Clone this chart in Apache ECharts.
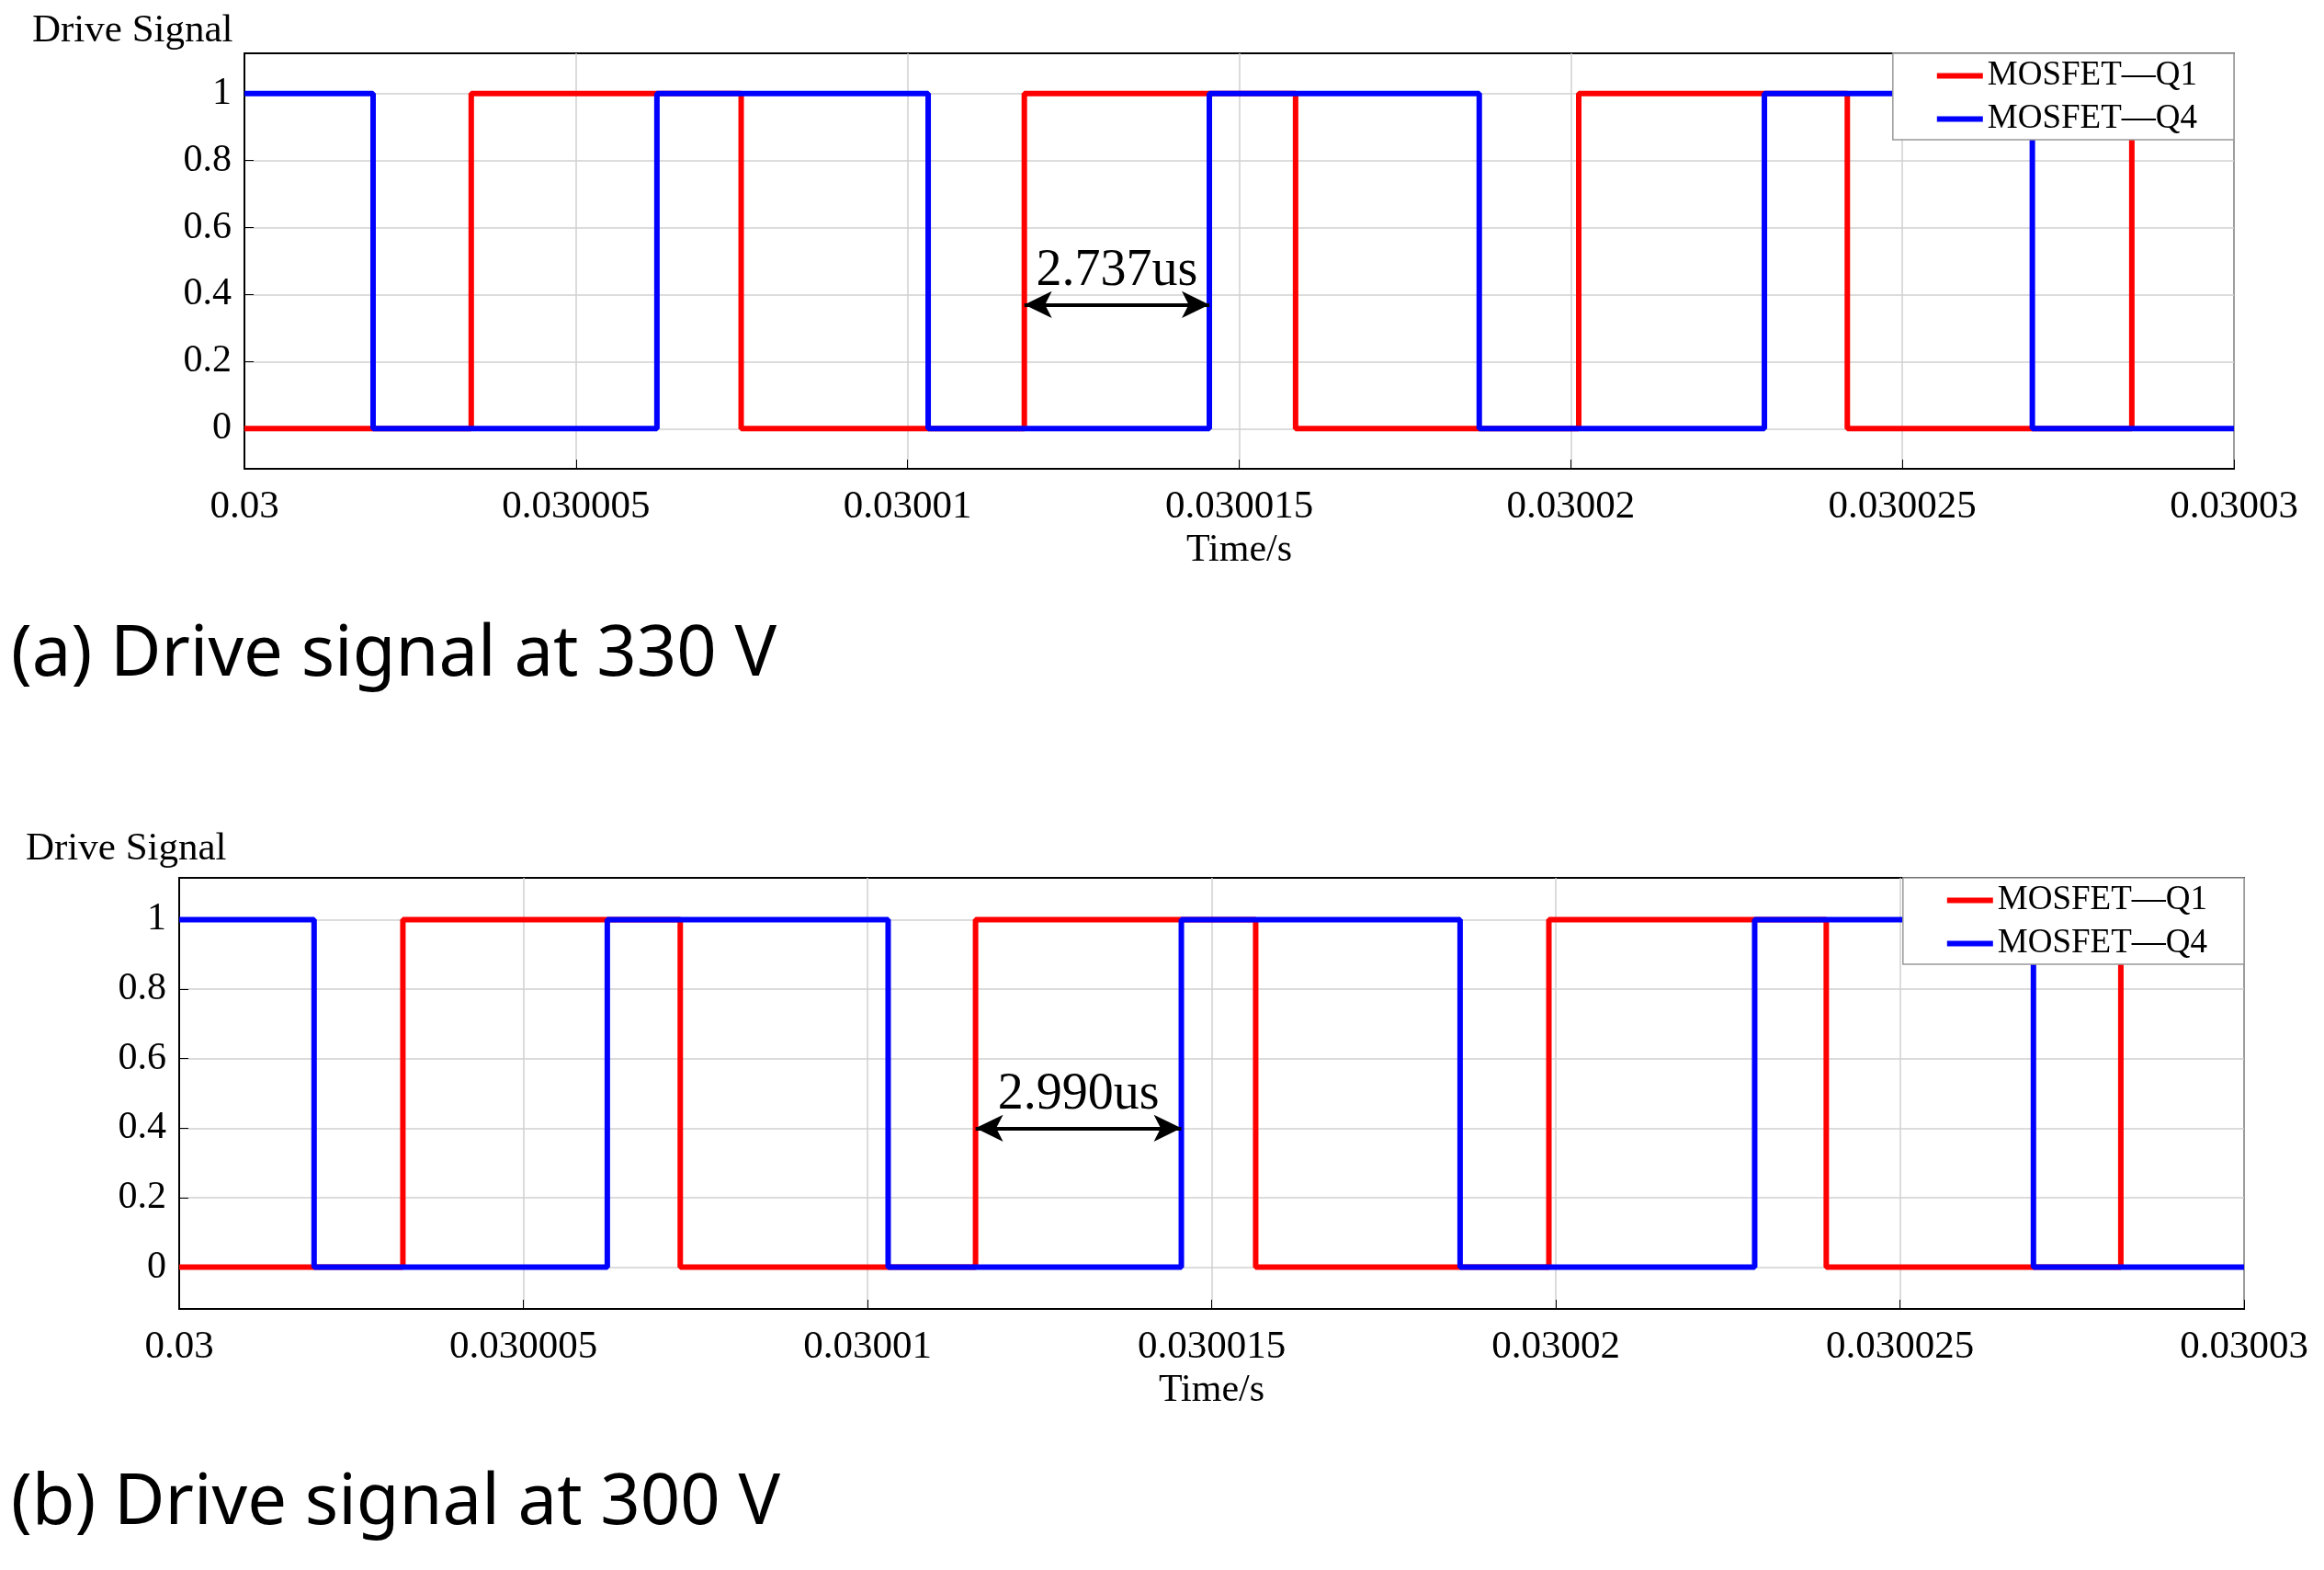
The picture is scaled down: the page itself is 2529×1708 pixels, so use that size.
<!DOCTYPE html>
<html><head><meta charset="utf-8">
<script src="https://cdn.jsdelivr.net/npm/echarts@6/dist/echarts.min.js"></script>
<style>html,body{margin:0;padding:0;background:#fff}#main{width:2529px;height:1708px}</style>
</head><body><div id="main"></div>
<script>
// time in microseconds after 0.03 s
var xTickLabels = ['0.03', '0.030005', '0.03001', '0.030015', '0.03002', '0.030025', '0.03003'];
var yTicks = [0, 0.2, 0.4, 0.6, 0.8, 1];

// (a) 330 V: switching instants (us) and start levels
var q1EdgesA = [3.42, 7.49, 11.76, 15.85, 20.12, 24.17, 28.46];
var q4EdgesA = [1.94, 6.22, 10.31, 14.55, 18.62, 22.92, 26.96];
// (b) 300 V
var q1EdgesB = [3.25, 7.28, 11.57, 15.64, 19.90, 23.93, 28.21];
var q4EdgesB = [1.96, 6.22, 10.30, 14.56, 18.61, 22.89, 26.94];
var q1Start = 0, q4Start = 1;
var deadA = [11.76, 14.55, 0.37, '2.737us'];
var deadB = [11.57, 14.56, 0.4, '2.990us'];

function wave(edges, start) {
    var pts = [[0, start]], v = start;
    edges.forEach(function (t) { pts.push([t, v]); v = 1 - v; pts.push([t, v]); });
    pts.push([30, v]);
    return pts;
}

var font = 'Liberation Serif';
var myChart = echarts.init(document.getElementById('main'));
var grids = [
    { left: 266, right: 98, top: 58, height: 452 },
    { left: 195, right: 87, top: 955, height: 469 }
];
var xAxes = [], yAxes = [], series = [], legends = [];
[[q1EdgesA, q4EdgesA, deadA], [q1EdgesB, q4EdgesB, deadB]].forEach(function (d, i) {
    grids[i].show = true; grids[i].borderColor = '#000'; grids[i].borderWidth = 2;
    xAxes.push({
        type: 'value', gridIndex: i, min: 0, max: 30, interval: 5,
        name: 'Time/s', nameLocation: 'middle', nameGap: 68,
        nameTextStyle: { fontFamily: font, fontSize: 42, color: '#000' },
        axisLine: { onZero: false, lineStyle: { color: '#000', width: 2 } },
        axisTick: { inside: true, length: 10, lineStyle: { color: '#000' } },
        axisLabel: { fontFamily: font, fontSize: 43, color: '#000', margin: 20,
            formatter: function (v) { return xTickLabels[Math.round(v / 5)]; } },
        splitLine: { show: true, lineStyle: { color: '#d0d0d0', width: 1.5 } }
    });
    yAxes.push({
        type: 'value', gridIndex: i, min: -0.12, max: 1.12,
        axisLine: { show: true, onZero: false, lineStyle: { color: '#000', width: 2 } },
        axisTick: { show: true, inside: true, length: 10, customValues: yTicks, lineStyle: { color: '#000' } },
        axisLabel: { fontFamily: font, fontSize: 42, color: '#000', margin: 14, customValues: yTicks },
        splitLine: { show: true, lineStyle: { color: '#d0d0d0', width: 1.5 } }
    });
    series.push({
        name: 'MOSFET\u2014Q1', type: 'line', xAxisIndex: i, yAxisIndex: i, data: wave(d[0], q1Start),
        symbol: 'none', lineStyle: { color: '#ff0000', width: 6 }, itemStyle: { color: '#ff0000' }, z: 2
    });
    series.push({
        name: 'MOSFET\u2014Q4', type: 'line', xAxisIndex: i, yAxisIndex: i, data: wave(d[1], q4Start),
        symbol: 'none', lineStyle: { color: '#0000ff', width: 6 }, itemStyle: { color: '#0000ff' }, z: 3,
        markLine: {
            silent: true, symbol: ['arrow', 'arrow'], symbolSize: [22, 30], animation: false,
            lineStyle: { color: '#000', width: 4, type: 'solid' },
            label: { show: true, position: 'middle', formatter: d[2][3], fontFamily: font, fontSize: 56, color: '#000', distance: 8 },
            data: [[{ coord: [d[2][0], d[2][2]] }, { coord: [d[2][1], d[2][2]] }]]
        }
    });
    legends.push({
        top: i === 0 ? 58 : 955, right: i === 0 ? 98 : 87, orient: 'vertical',
        data: ['MOSFET\u2014Q1', 'MOSFET\u2014Q4'], icon: 'rect', itemWidth: 50, itemHeight: 6, itemGap: 10,
        backgroundColor: '#fff', borderColor: '#999', borderWidth: 1.5, borderRadius: 0, padding: [6, 40, 4, 48],
        textStyle: { fontFamily: font, fontSize: 37, color: '#000' }
    });
});

myChart.setOption({
    backgroundColor: '#fff',
    animation: false,
    grid: grids, xAxis: xAxes, yAxis: yAxes, series: series, legend: legends,
    graphic: [
        { type: 'text', left: 35, top: 12, style: { text: 'Drive Signal', font: '43px "Liberation Serif"', fill: '#000' } },
        { type: 'text', left: 28, top: 902, style: { text: 'Drive Signal', font: '43px "Liberation Serif"', fill: '#000' } },
        { type: 'text', left: 12, top: 675, style: { text: '(a) Drive signal at 330 V', font: '76px "Noto Sans"', fill: '#000' } },
        { type: 'text', left: 12, top: 1598, style: { text: '(b) Drive signal at 300 V', font: '76px "Noto Sans"', fill: '#000' } }
    ]
});
</script></body></html>
